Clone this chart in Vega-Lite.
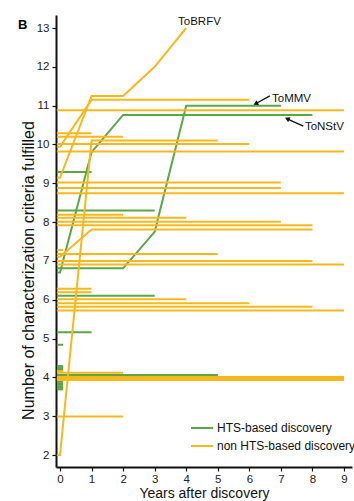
{
  "$schema": "https://vega.github.io/schema/vega-lite/v6.json",
  "width": 296,
  "height": 452,
  "autosize": "none",
  "padding": {"left": 56, "top": 15, "right": 2, "bottom": 34},
  "title": {"text": "B", "anchor": "start", "frame": "group", "orient": "top", "fontSize": 13, "fontWeight": "bold", "font": "Liberation Sans", "color": "#000", "dx": -38, "dy": 17, "offset": 0, "baseline": "top"},
  "config": {
    "view": {"stroke": null},
    "font": "Liberation Sans",
    "axis": {"labelFont": "Liberation Sans", "titleFont": "Liberation Sans", "labelColor": "#222", "titleColor": "#111", "domainColor": "#111", "tickColor": "#111", "grid": false, "domainWidth": 2, "tickWidth": 1.2, "tickSize": 4, "labelFontSize": 11.5, "titleFontSize": 14, "titleFontWeight": "normal", "labelPadding": 2, "labelOverlap": false}
  },
  "datasets": {
    "lines": [
      {"virus": "g1", "discovery": "HTS-based discovery", "year": -0.1, "criteria": 6.7},
      {"virus": "g1", "discovery": "HTS-based discovery", "year": 0, "criteria": 6.7},
      {"virus": "g1", "discovery": "HTS-based discovery", "year": 1, "criteria": 9.8},
      {"virus": "g1", "discovery": "HTS-based discovery", "year": 2, "criteria": 10.76},
      {"virus": "g1", "discovery": "HTS-based discovery", "year": 8, "criteria": 10.76},
      {"virus": "g2", "discovery": "HTS-based discovery", "year": -0.1, "criteria": 6.81},
      {"virus": "g2", "discovery": "HTS-based discovery", "year": 2, "criteria": 6.81},
      {"virus": "g2", "discovery": "HTS-based discovery", "year": 3, "criteria": 7.75},
      {"virus": "g2", "discovery": "HTS-based discovery", "year": 4, "criteria": 11.0},
      {"virus": "g2", "discovery": "HTS-based discovery", "year": 7, "criteria": 11.0},
      {"virus": "g3", "discovery": "HTS-based discovery", "year": -0.1, "criteria": 9.29},
      {"virus": "g3", "discovery": "HTS-based discovery", "year": 1, "criteria": 9.29},
      {"virus": "g4", "discovery": "HTS-based discovery", "year": -0.1, "criteria": 8.3},
      {"virus": "g4", "discovery": "HTS-based discovery", "year": 3, "criteria": 8.3},
      {"virus": "g5", "discovery": "HTS-based discovery", "year": -0.1, "criteria": 6.1},
      {"virus": "g5", "discovery": "HTS-based discovery", "year": 3, "criteria": 6.1},
      {"virus": "g6", "discovery": "HTS-based discovery", "year": -0.1, "criteria": 5.16},
      {"virus": "g6", "discovery": "HTS-based discovery", "year": 1, "criteria": 5.16},
      {"virus": "g7", "discovery": "HTS-based discovery", "year": -0.1, "criteria": 4.84},
      {"virus": "g7", "discovery": "HTS-based discovery", "year": 0.1, "criteria": 4.84},
      {"virus": "g8", "discovery": "HTS-based discovery", "year": -0.1, "criteria": 4.29},
      {"virus": "g8", "discovery": "HTS-based discovery", "year": 0.1, "criteria": 4.29},
      {"virus": "g9", "discovery": "HTS-based discovery", "year": -0.1, "criteria": 4.24},
      {"virus": "g9", "discovery": "HTS-based discovery", "year": 0.1, "criteria": 4.24},
      {"virus": "g10", "discovery": "HTS-based discovery", "year": -0.1, "criteria": 4.19},
      {"virus": "g10", "discovery": "HTS-based discovery", "year": 0.1, "criteria": 4.19},
      {"virus": "g11", "discovery": "HTS-based discovery", "year": -0.1, "criteria": 4.06},
      {"virus": "g11", "discovery": "HTS-based discovery", "year": 5, "criteria": 4.06},
      {"virus": "g12", "discovery": "HTS-based discovery", "year": -0.1, "criteria": 3.89},
      {"virus": "g12", "discovery": "HTS-based discovery", "year": 0.1, "criteria": 3.89},
      {"virus": "g13", "discovery": "HTS-based discovery", "year": -0.1, "criteria": 3.85},
      {"virus": "g13", "discovery": "HTS-based discovery", "year": 0.1, "criteria": 3.85},
      {"virus": "g14", "discovery": "HTS-based discovery", "year": -0.1, "criteria": 3.81},
      {"virus": "g14", "discovery": "HTS-based discovery", "year": 0.1, "criteria": 3.81},
      {"virus": "g15", "discovery": "HTS-based discovery", "year": -0.1, "criteria": 3.77},
      {"virus": "g15", "discovery": "HTS-based discovery", "year": 0.1, "criteria": 3.77},
      {"virus": "g16", "discovery": "HTS-based discovery", "year": -0.1, "criteria": 3.73},
      {"virus": "g16", "discovery": "HTS-based discovery", "year": 0.1, "criteria": 3.73},
      {"virus": "g17", "discovery": "HTS-based discovery", "year": -0.1, "criteria": 3.69},
      {"virus": "g17", "discovery": "HTS-based discovery", "year": 0.1, "criteria": 3.69},
      {"virus": "y1", "discovery": "non HTS-based discovery", "year": -0.1, "criteria": 9.14},
      {"virus": "y1", "discovery": "non HTS-based discovery", "year": 0, "criteria": 9.14},
      {"virus": "y1", "discovery": "non HTS-based discovery", "year": 1, "criteria": 11.25},
      {"virus": "y1", "discovery": "non HTS-based discovery", "year": 2, "criteria": 11.25},
      {"virus": "y1", "discovery": "non HTS-based discovery", "year": 3, "criteria": 12.0},
      {"virus": "y1", "discovery": "non HTS-based discovery", "year": 4, "criteria": 13.0},
      {"virus": "y2", "discovery": "non HTS-based discovery", "year": -0.1, "criteria": 9.94},
      {"virus": "y2", "discovery": "non HTS-based discovery", "year": 0, "criteria": 9.94},
      {"virus": "y2", "discovery": "non HTS-based discovery", "year": 1, "criteria": 11.15},
      {"virus": "y2", "discovery": "non HTS-based discovery", "year": 6, "criteria": 11.15},
      {"virus": "y3", "discovery": "non HTS-based discovery", "year": -0.1, "criteria": 2.0},
      {"virus": "y3", "discovery": "non HTS-based discovery", "year": 0, "criteria": 2.0},
      {"virus": "y3", "discovery": "non HTS-based discovery", "year": 1, "criteria": 10.1},
      {"virus": "y3", "discovery": "non HTS-based discovery", "year": 5, "criteria": 10.1},
      {"virus": "y4", "discovery": "non HTS-based discovery", "year": -0.1, "criteria": 7.11},
      {"virus": "y4", "discovery": "non HTS-based discovery", "year": 0, "criteria": 7.11},
      {"virus": "y4", "discovery": "non HTS-based discovery", "year": 1, "criteria": 7.81},
      {"virus": "y4", "discovery": "non HTS-based discovery", "year": 8, "criteria": 7.81},
      {"virus": "y5", "discovery": "non HTS-based discovery", "year": -0.1, "criteria": 10.88},
      {"virus": "y5", "discovery": "non HTS-based discovery", "year": 9, "criteria": 10.88},
      {"virus": "y6", "discovery": "non HTS-based discovery", "year": -0.1, "criteria": 10.29},
      {"virus": "y6", "discovery": "non HTS-based discovery", "year": 1, "criteria": 10.29},
      {"virus": "y7", "discovery": "non HTS-based discovery", "year": -0.1, "criteria": 10.2},
      {"virus": "y7", "discovery": "non HTS-based discovery", "year": 2, "criteria": 10.2},
      {"virus": "y8", "discovery": "non HTS-based discovery", "year": -0.1, "criteria": 10.01},
      {"virus": "y8", "discovery": "non HTS-based discovery", "year": 6, "criteria": 10.01},
      {"virus": "y9", "discovery": "non HTS-based discovery", "year": -0.1, "criteria": 9.82},
      {"virus": "y9", "discovery": "non HTS-based discovery", "year": 9, "criteria": 9.82},
      {"virus": "y10", "discovery": "non HTS-based discovery", "year": -0.1, "criteria": 9.02},
      {"virus": "y10", "discovery": "non HTS-based discovery", "year": 7, "criteria": 9.02},
      {"virus": "y11", "discovery": "non HTS-based discovery", "year": -0.1, "criteria": 8.88},
      {"virus": "y11", "discovery": "non HTS-based discovery", "year": 7, "criteria": 8.88},
      {"virus": "y12", "discovery": "non HTS-based discovery", "year": -0.1, "criteria": 8.74},
      {"virus": "y12", "discovery": "non HTS-based discovery", "year": 9, "criteria": 8.74},
      {"virus": "y13", "discovery": "non HTS-based discovery", "year": -0.1, "criteria": 8.19},
      {"virus": "y13", "discovery": "non HTS-based discovery", "year": 2, "criteria": 8.19},
      {"virus": "y14", "discovery": "non HTS-based discovery", "year": -0.1, "criteria": 8.11},
      {"virus": "y14", "discovery": "non HTS-based discovery", "year": 4, "criteria": 8.11},
      {"virus": "y15", "discovery": "non HTS-based discovery", "year": -0.1, "criteria": 8.01},
      {"virus": "y15", "discovery": "non HTS-based discovery", "year": 7, "criteria": 8.01},
      {"virus": "y16", "discovery": "non HTS-based discovery", "year": -0.1, "criteria": 7.92},
      {"virus": "y16", "discovery": "non HTS-based discovery", "year": 8, "criteria": 7.92},
      {"virus": "y17", "discovery": "non HTS-based discovery", "year": -0.1, "criteria": 7.28},
      {"virus": "y17", "discovery": "non HTS-based discovery", "year": 0.1, "criteria": 7.28},
      {"virus": "y18", "discovery": "non HTS-based discovery", "year": -0.1, "criteria": 7.18},
      {"virus": "y18", "discovery": "non HTS-based discovery", "year": 5, "criteria": 7.18},
      {"virus": "y19", "discovery": "non HTS-based discovery", "year": -0.1, "criteria": 7.0},
      {"virus": "y19", "discovery": "non HTS-based discovery", "year": 8, "criteria": 7.0},
      {"virus": "y20", "discovery": "non HTS-based discovery", "year": -0.1, "criteria": 6.91},
      {"virus": "y20", "discovery": "non HTS-based discovery", "year": 9, "criteria": 6.91},
      {"virus": "y21", "discovery": "non HTS-based discovery", "year": -0.1, "criteria": 6.28},
      {"virus": "y21", "discovery": "non HTS-based discovery", "year": 1, "criteria": 6.28},
      {"virus": "y22", "discovery": "non HTS-based discovery", "year": -0.1, "criteria": 6.19},
      {"virus": "y22", "discovery": "non HTS-based discovery", "year": 1, "criteria": 6.19},
      {"virus": "y23", "discovery": "non HTS-based discovery", "year": -0.1, "criteria": 6.01},
      {"virus": "y23", "discovery": "non HTS-based discovery", "year": 4, "criteria": 6.01},
      {"virus": "y24", "discovery": "non HTS-based discovery", "year": -0.1, "criteria": 5.91},
      {"virus": "y24", "discovery": "non HTS-based discovery", "year": 6, "criteria": 5.91},
      {"virus": "y25", "discovery": "non HTS-based discovery", "year": -0.1, "criteria": 5.82},
      {"virus": "y25", "discovery": "non HTS-based discovery", "year": 8, "criteria": 5.82},
      {"virus": "y26", "discovery": "non HTS-based discovery", "year": -0.1, "criteria": 5.72},
      {"virus": "y26", "discovery": "non HTS-based discovery", "year": 9, "criteria": 5.72},
      {"virus": "y27", "discovery": "non HTS-based discovery", "year": -0.1, "criteria": 4.16},
      {"virus": "y27", "discovery": "non HTS-based discovery", "year": 0.1, "criteria": 4.16},
      {"virus": "y28", "discovery": "non HTS-based discovery", "year": -0.1, "criteria": 4.12},
      {"virus": "y28", "discovery": "non HTS-based discovery", "year": 2, "criteria": 4.12},
      {"virus": "y29", "discovery": "non HTS-based discovery", "year": -0.1, "criteria": 4.01},
      {"virus": "y29", "discovery": "non HTS-based discovery", "year": 9, "criteria": 4.01},
      {"virus": "y30", "discovery": "non HTS-based discovery", "year": -0.1, "criteria": 3.98},
      {"virus": "y30", "discovery": "non HTS-based discovery", "year": 9, "criteria": 3.98},
      {"virus": "y31", "discovery": "non HTS-based discovery", "year": -0.1, "criteria": 3.96},
      {"virus": "y31", "discovery": "non HTS-based discovery", "year": 9, "criteria": 3.96},
      {"virus": "y32", "discovery": "non HTS-based discovery", "year": -0.1, "criteria": 3.93},
      {"virus": "y32", "discovery": "non HTS-based discovery", "year": 9, "criteria": 3.93},
      {"virus": "y33", "discovery": "non HTS-based discovery", "year": -0.1, "criteria": 2.99},
      {"virus": "y33", "discovery": "non HTS-based discovery", "year": 2, "criteria": 2.99}
    ],
    "labels": [
      {"label": "ToBRFV", "year": 3.74, "criteria": 13.16},
      {"label": "ToMMV", "year": 6.72, "criteria": 11.17},
      {"label": "ToNStV", "year": 7.76, "criteria": 10.45}
    ],
    "arrows": [
      {"label": "ToMMV", "year": 6.65, "criteria": 11.25, "year2": 6.2, "criteria2": 11.05},
      {"label": "ToNStV", "year": 7.71, "criteria": 10.47, "year2": 7.2, "criteria2": 10.66}
    ],
    "heads": [
      {"label": "ToMMV", "year": 6.2, "criteria": 11.05},
      {"label": "ToNStV", "year": 7.2, "criteria": 10.66}
    ]
  },
  "encoding": {
    "x": {"field": "year", "type": "quantitative", "scale": {"domain": [-0.127, 9.253], "nice": false, "zero": false},
          "axis": {"values": [0, 1, 2, 3, 4, 5, 6, 7, 8, 9], "tickCount": 10, "title": "Years after discovery", "titlePadding": 2, "labelOverlap": false, "labelBound": false, "labelFlush": false}},
    "y": {"field": "criteria", "type": "quantitative", "scale": {"domain": [1.691, 13.335], "nice": false, "zero": false},
          "axis": {"values": [2, 3, 4, 5, 6, 7, 8, 9, 10, 11, 12, 13], "tickCount": 12, "title": "Number of characterization criteria fulfilled", "titleFontSize": 16, "titleX": -23, "titleY": 255, "titleAngle": 270, "titleAlign": "center", "titleBaseline": "alphabetic", "labelPadding": 3, "labelOverlap": false}}
  },
  "layer": [
    {
      "data": {"name": "lines"},
      "mark": {"type": "line", "strokeWidth": 2, "strokeCap": "butt", "interpolate": "linear"},
      "encoding": {
        "detail": {"field": "virus"},
        "color": {"field": "discovery", "type": "nominal",
                  "scale": {"domain": ["HTS-based discovery", "non HTS-based discovery"], "range": ["#58a846", "#f8b81c"]},
                  "legend": {"orient": "none", "legendX": 134, "legendY": 401, "title": null, "symbolType": "stroke", "symbolSize": 484, "symbolStrokeWidth": 2, "labelFontSize": 12, "labelFont": "Liberation Sans", "labelColor": "#111", "labelOffset": 3, "rowPadding": -4, "padding": 0}}
      }
    },
    {
      "data": {"name": "labels"},
      "mark": {"type": "text", "align": "left", "baseline": "middle", "fontSize": 11.5, "font": "Liberation Sans", "color": "#111"},
      "encoding": {
        "text": {"field": "label"}
      }
    },
    {
      "data": {"name": "arrows"},
      "mark": {"type": "rule", "color": "#111", "strokeWidth": 1.3},
      "encoding": {
        "x2": {"field": "year2"},
        "y2": {"field": "criteria2"}
      }
    },
    {
      "data": {"name": "heads"},
      "transform": [{"filter": "datum.label === 'ToMMV'"}],
      "mark": {"type": "point", "shape": "triangle-up", "filled": true, "color": "#111", "size": 30, "angle": 244, "opacity": 1}
    },
    {
      "data": {"name": "heads"},
      "transform": [{"filter": "datum.label === 'ToNStV'"}],
      "mark": {"type": "point", "shape": "triangle-up", "filled": true, "color": "#111", "size": 30, "angle": 295, "opacity": 1}
    }
  ]
}
